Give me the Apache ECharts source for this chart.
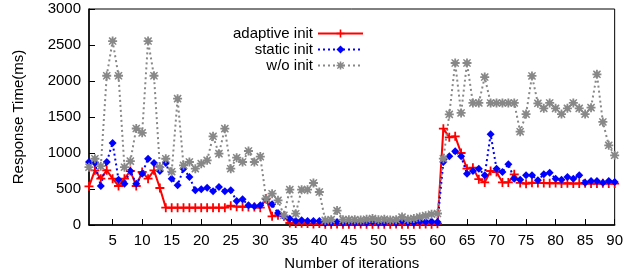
<!DOCTYPE html>
<html lang="en">
<head>
    <meta charset="UTF-8">
    <title>Response Time</title>
    <style>
        body { margin: 0; padding: 0; background: #fff; }
        #chart { width: 626px; height: 277px; }
    </style>
    <script src="https://cdn.jsdelivr.net/npm/echarts@6/dist/echarts.min.js"></script>
</head>
<body>
    <div id="chart"></div>
    <script>
        // x positions: iteration number 1..90
        const iterations = Array.from({ length: 90 }, (_, i) => i + 1);
        const xTicks = [5, 10, 15, 20, 25, 30, 35, 40, 45, 50, 55, 60, 65, 70, 75, 80, 85, 90];

        const adaptiveInit = [
            537, 759, 644, 759, 644, 542, 644, 750, 542, 736, 644, 759, 514, 241,
            241, 241, 241, 241, 241, 241, 241, 241, 241, 241,
            268, 255, 255, 250, 250, 240,
            366, 120, 134, 120, 28,
            20, 25, 20, 15, 20, 10, 10, 15, 10, 10, 10, 15, 10, 10, 10, 10, 10, 15, 10, 10, 10, 10, 15, 10, 18,
            1338, 1218, 1232, 1000, 782, 796, 637, 592, 750, 736, 592, 592, 704, 585, 574,
            588, 583, 585, 580, 585, 578, 580, 575, 578, 580, 575, 575, 580, 575, 575
        ];
        const staticInit = [
            875, 860, 542, 875, 1139, 630, 574, 750, 574, 713, 921, 861, 750, 860, 644, 551, 782, 667, 482, 495,
            519, 468, 528, 468, 482, 333, 357, 273, 259, 273, 350, 287, 167, 120, 88, 56, 65, 56, 56, 56,
            28, 30, 42, 30, 35, 30, 35, 30, 45, 30, 30, 45, 30, 55, 35, 30, 50, 45, 50, 42,
            875, 954, 1023, 954, 713, 750, 782, 690, 1259, 782, 736, 843, 644, 630, 690,
            690, 620, 704, 727, 644, 630, 667, 644, 690, 588, 611, 611, 588, 611, 597
        ];
        const noInit = [
            803, 920, 817, 2073, 2555, 2073, 803, 887, 1340, 1280, 2555, 2073, 803, 920, 740, 1755, 829, 875, 782, 852,
            898, 1232, 991, 1338, 782, 935, 875, 1028, 875, 950, 366, 435, 343, 134, 491, 157, 491, 491, 583, 458,
            65, 74, 200, 74, 74, 74, 70, 80, 90, 74, 80, 70, 74, 110, 80, 90, 110, 130, 150, 160,
            921, 1537, 2250, 1556, 2250, 1695, 1695, 2055, 1695, 1695, 1695, 1695, 1695, 1296, 1540,
            2070, 1690, 1620, 1695, 1620, 1540, 1620, 1695, 1620, 1540, 1630, 2093, 1431, 1107, 968
        ];

        function pairs(values) {
            return iterations.map((x, i) => [x, values[i]]);
        }

        const plusPath = 'path://M-1,-5L1,-5L1,-1L5,-1L5,1L1,1L1,5L-1,5L-1,1L-5,1L-5,-1L-1,-1Z';
        const starPath = 'path://M-1,-5L1,-5L1,-2.5L3.5,-4.5L4.5,-3.5L2.5,-1L5,-1L5,1L2.5,1L4.5,3.5L3.5,4.5L1,2.5L1,5L-1,5L-1,2.5L-3.5,4.5L-4.5,3.5L-2.5,1L-5,1L-5,-1L-2.5,-1L-4.5,-3.5L-3.5,-4.5L-1,-2.5Z';

        const font = 'Liberation Sans, Arial, sans-serif';
        const chart = echarts.init(document.getElementById('chart'));

        chart.setOption({
            animation: false,
            grid: {
                left: 89, right: 11, top: 9, bottom: 52,
                show: true, borderColor: '#000', borderWidth: 1
            },
            legend: {
                orient: 'vertical',
                align: 'right',
                right: 257,
                top: 21,
                itemWidth: 45,
                itemHeight: 10,
                itemGap: 1,
                textStyle: { fontFamily: font, fontSize: 15, color: '#000', lineHeight: 14 },
                data: ['adaptive init', 'static init', 'w/o init']
            },
            xAxis: {
                type: 'value',
                min: 1,
                max: 90,
                name: 'Number of iterations',
                nameLocation: 'middle',
                nameGap: 31,
                nameTextStyle: { fontFamily: font, fontSize: 15, color: '#000' },
                axisLine: { lineStyle: { color: '#000', width: 1.5 } },
                axisTick: { inside: true, length: 6, lineStyle: { color: '#000' }, customValues: xTicks },
                axisLabel: { fontFamily: font, fontSize: 15, color: '#000', margin: 8, customValues: xTicks },
                splitLine: { show: false }
            },
            yAxis: {
                type: 'value',
                min: 0,
                max: 3000,
                interval: 500,
                name: 'Response Time(ms)',
                nameLocation: 'middle',
                nameGap: 63,
                nameTextStyle: { fontFamily: font, fontSize: 15, color: '#000' },
                axisLine: { show: true, lineStyle: { color: '#000', width: 1.5 } },
                axisTick: { inside: true, length: 6, lineStyle: { color: '#000' } },
                axisLabel: { fontFamily: font, fontSize: 15, color: '#000', margin: 8, formatter: v => String(v) },
                splitLine: { show: false }
            },
            series: [
                {
                    name: 'adaptive init',
                    type: 'line',
                    data: pairs(adaptiveInit),
                    symbol: plusPath,
                    symbolSize: 9,
                    showAllSymbol: true,
                    lineStyle: { color: '#ff0000', width: 2 },
                    itemStyle: { color: '#ff0000' }
                },
                {
                    name: 'static init',
                    type: 'line',
                    data: pairs(staticInit),
                    symbol: 'diamond',
                    symbolSize: 8,
                    showAllSymbol: true,
                    lineStyle: { color: '#0000ff', width: 2, type: [2, 3] },
                    itemStyle: { color: '#0000ff' }
                },
                {
                    name: 'w/o init',
                    type: 'line',
                    data: pairs(noInit),
                    symbol: starPath,
                    symbolSize: 9,
                    showAllSymbol: true,
                    lineStyle: { color: '#888888', width: 2, type: [2, 3] },
                    itemStyle: { color: '#888888' }
                }
            ]
        });
    </script>
</body>
</html>
